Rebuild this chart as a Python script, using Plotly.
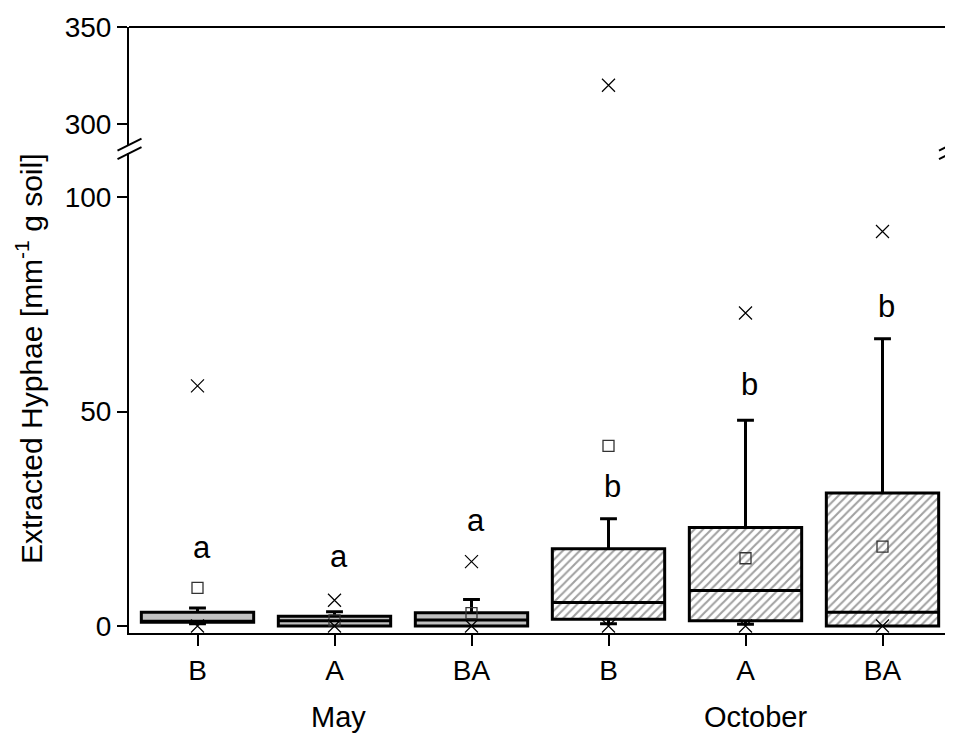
import plotly.graph_objects as go

# ---------------- data ----------------
positions = [0, 1, 2, 3, 4, 5]
treatments = ["B", "A", "BA", "B", "A", "BA"]
months = ["May", "October"]
month_centres = [1.03, 4.08]

q1 = [0.9, 0.0, 0.0, 1.6, 1.2, 0.0]
median = [0.9, 1.2, 1.4, 5.5, 8.3, 3.2]
q3 = [3.2, 2.3, 3.1, 18.0, 23.0, 31.0]
whisker_low = [0.5, 0.0, 0.0, 0.5, 0.4, 0.0]
whisker_high = [4.2, 3.3, 6.2, 25.0, 48.0, 67.0]
means = [8.9, 1.3, 3.0, 42.0, 15.8, 18.5]
minimum = [0.0, 0.0, 0.0, 0.0, 0.0, 0.0]
maximum = [56.0, 6.0, 15.0, 320.0, 73.0, 92.0]

sig_letters = ["a", "a", "a", "b", "b", "b"]
sig_y = [18.4, 16.3, 24.7, 32.6, 56.4, 74.6]

box_fill = ["#c0c0c0", "#c0c0c0", "#c0c0c0", "white", "white", "white"]
box_pattern = ["", "", "", "/", "/", "/"]

FONT = "Arial, Liberation Sans, sans-serif"
BW = 0.82

fig = go.Figure()

# hatched / grey box bodies
fig.add_trace(go.Bar(
    x=positions, y=[b - a for a, b in zip(q1, q3)], base=q1, width=BW,
    marker=dict(color=box_fill, line=dict(width=0),
                pattern=dict(shape=box_pattern, fgcolor="black", size=6, solidity=0.35)),
    xaxis="x", yaxis="y", showlegend=False, hoverinfo="skip"))

# box outlines, medians and whiskers
fig.add_trace(go.Box(
    x=positions, q1=q1, median=median, q3=q3,
    lowerfence=whisker_low, upperfence=whisker_high,
    width=BW, whiskerwidth=0.15, boxpoints=False,
    fillcolor="rgba(0,0,0,0)", line=dict(color="black", width=3),
    xaxis="x", yaxis="y", showlegend=False))

# means
fig.add_trace(go.Scatter(
    x=positions, y=means, mode="markers",
    marker=dict(symbol="square-open", size=11, color="#333", line=dict(width=1.3)),
    xaxis="x", yaxis="y", showlegend=False))

# min / max markers on both axis segments
for ax in ["y", "y2"]:
    fig.add_trace(go.Scatter(
        x=positions + positions, y=minimum + maximum, mode="markers",
        marker=dict(symbol="x-thin-open", size=13, color="black", line=dict(width=1.2, color="black")),
        xaxis="x", yaxis=ax, showlegend=False, cliponaxis=True))

# significance letters
for p, l, v in zip(positions, sig_letters, sig_y):
    fig.add_annotation(x=p + 0.03, y=v, xref="x", yref="y", text=l, showarrow=False,
                       font=dict(family=FONT, size=31, color="black"))

# page offset (browser body margin) compensation
OFF = 8
W, H = 953 - OFF, 733 - OFF
L, T = 129 - OFF, 27 - OFF
pw, ph = 822, 606
R = W - L - pw
B = H - T - ph

def py(pix):
    # pix: screen y in the 953x733 window
    return (T + OFF + ph - pix) / ph

def px(pix):
    return (pix - L - OFF) / pw

# month labels
for m, c in zip(months, month_centres):
    fig.add_annotation(x=c, y=py(717), xref="x", yref="paper", text=m, showarrow=False,
                       xanchor="center", yanchor="middle",
                       font=dict(family=FONT, size=29, color="black"))

# y title
fig.add_annotation(x=px(29), y=py(359), xref="paper", yref="paper", textangle=-90,
                   xanchor="center", yanchor="middle",
                   text="Extracted Hyphae [mm<sup>-1</sup> g soil]", showarrow=False,
                   font=dict(family=FONT, size=30, color="black"))

axis_style = dict(showgrid=False, zeroline=False, showline=True, linecolor="black", linewidth=2,
                  ticks="outside", ticklen=10, tickwidth=2, tickcolor="black",
                  tickfont=dict(family=FONT, size=28, color="black"))

fig.update_layout(
    width=W, height=H, margin=dict(l=L, r=R, t=T, b=B, autoexpand=False),
    plot_bgcolor="white", paper_bgcolor="white",
    xaxis=dict(range=[-0.5, 5.5], tickvals=positions, ticktext=treatments, anchor="y",
               **{**axis_style, "ticklen": 11}),
    yaxis=dict(domain=[0, py(153)], range=[-1.63, 110.3], tickvals=[0, 50, 100], mirror=True,
               **axis_style),
    yaxis2=dict(domain=[py(145), 1], range=[289.2, 350], tickvals=[300, 350], mirror=True,
                anchor="x", **axis_style),
    showlegend=False,
)

# top border
fig.add_shape(type="line", xref="paper", yref="paper", x0=0, x1=1, y0=1, y1=1,
              line=dict(color="black", width=2))

# axis-break slashes
for xc in [129.5, 951]:
    for yc in [144.6, 153.2]:
        fig.add_shape(type="line", xref="paper", yref="paper",
                      x0=px(xc - 12), y0=py(yc + 6), x1=px(xc + 12), y1=py(yc - 6),
                      line=dict(color="black", width=2))

fig.write_html("out.html")
